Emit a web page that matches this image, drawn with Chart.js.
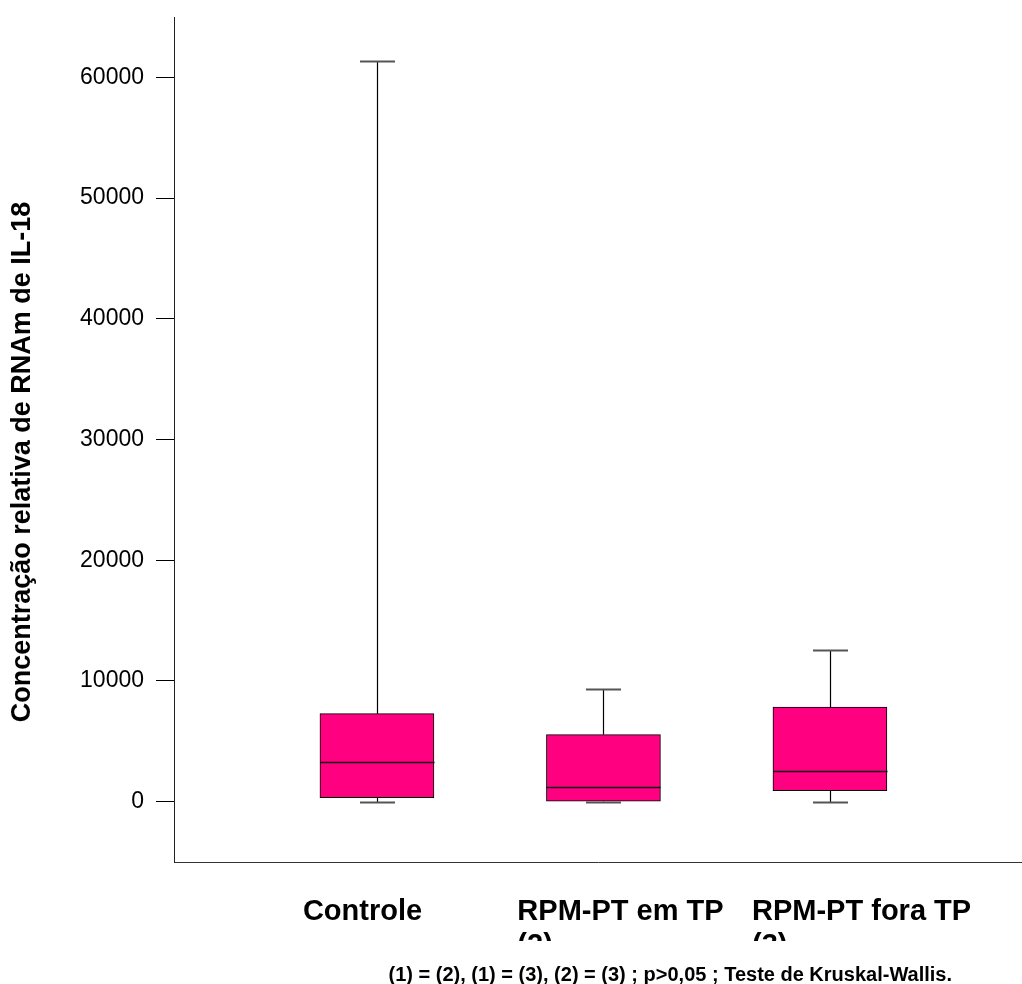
<!DOCTYPE html>
<html>
<head>
<meta charset="utf-8">
<script src="https://cdn.jsdelivr.net/npm/chart.js@4.4.1/dist/chart.umd.min.js"></script>
<style>
    html, body { margin: 0; padding: 0; background: #fff; }
    #wrap { width: 1022px; height: 984px; }
</style>
</head>
<body>
<div id="wrap"><canvas id="grafico"></canvas></div>
<script>
// dados do boxplot
var grupos = [['Controle'], ['RPM-PT em TP', '(2)'], ['RPM-PT fora TP', '(3)']];
var posicoes = [1, 2, 3];
var minimos = [0, 0, 0];
var quartil1 = [330, 0, 910];
var medianas = [3250, 1180, 2510];
var quartil3 = [7290, 5550, 7840];
var maximos = [61350, 9350, 12600];
var yTicks = [0, 10000, 20000, 30000, 40000, 50000, 60000];
var tituloY = 'Concentração relativa de RNAm de IL-18';
var rodape = '(1) = (2), (1) = (3), (2) = (3) ; p>0,05 ; Teste de Kruskal-Wallis.';

var fonte = '"Liberation Sans", Arial, sans-serif';

var linha = function (ctx, x1, y1, x2, y2) {
    ctx.beginPath();
    ctx.moveTo(x1, y1);
    ctx.lineTo(x2, y2);
    ctx.stroke();
};

// bigodes e mediana por cima das caixas
var bigodes = {
    id: 'bigodes',
    afterDatasetsDraw: function (chart) {
        var ctx = chart.ctx;
        var sy = chart.scales.y;
        var meta = chart.getDatasetMeta(0);
        ctx.save();
        posicoes.forEach(function (p, i) {
            var barra = meta.data[i];
            var cx = Math.round(barra.x) + 0.5;
            var meia = barra.width / 2;
            var yMax = Math.round(sy.getPixelForValue(maximos[i])) + 0.5;
            var yMin = Math.round(sy.getPixelForValue(minimos[i])) + 0.5;
            var yQ1 = sy.getPixelForValue(quartil1[i]);
            var yQ3 = sy.getPixelForValue(quartil3[i]);
            var yMed = Math.round(sy.getPixelForValue(medianas[i])) + 0.5;

            ctx.strokeStyle = '#000';
            ctx.lineWidth = 1.2;
            linha(ctx, cx, yQ3, cx, yMax);
            linha(ctx, cx, yQ1, cx, yMin);

            ctx.strokeStyle = '#555';
            ctx.lineWidth = 2;
            linha(ctx, cx - 17.5, yMax, cx + 17.5, yMax);
            linha(ctx, cx - 17.5, yMin, cx + 17.5, yMin);

            ctx.strokeStyle = '#111';
            ctx.lineWidth = 1.5;
            linha(ctx, cx - meia, yMed, cx + meia, yMed);
        });
        ctx.restore();
    }
};

// textos: titulo do eixo, rotulos das categorias e rodape
var textos = {
    id: 'textos',
    afterDraw: function (chart) {
        var ctx = chart.ctx;
        var sx = chart.scales.x;
        var desloc = [-0.327, -0.38, -0.344];
        ctx.save();
        ctx.fillStyle = '#000';

        ctx.save();
        ctx.translate(23, 462);
        ctx.rotate(-Math.PI / 2);
        ctx.font = 'bold 27px ' + fonte;
        ctx.textAlign = 'center';
        ctx.textBaseline = 'middle';
        ctx.fillText(tituloY, 0, 0);
        ctx.restore();

        ctx.save();
        ctx.beginPath();
        ctx.rect(0, chart.chartArea.bottom, chart.width, 941 - chart.chartArea.bottom);
        ctx.clip();
        ctx.font = 'bold 29px ' + fonte;
        ctx.textAlign = 'left';
        ctx.textBaseline = 'alphabetic';
        grupos.forEach(function (linhas, i) {
            var x0 = sx.getPixelForValue(posicoes[i] + desloc[i]);
            linhas.forEach(function (t, k) {
                ctx.fillText(t, x0, 920 + k * 34);
            });
        });
        ctx.restore();

        ctx.font = 'bold 20px ' + fonte;
        ctx.textAlign = 'right';
        ctx.textBaseline = 'alphabetic';
        ctx.fillText(rodape, 952, 981);
        ctx.restore();
    }
};

var dadosCaixas = posicoes.map(function (p, i) {
    return { x: p, y: [quartil1[i], quartil3[i]] };
});

new Chart(document.getElementById('grafico'), {
    type: 'bar',
    data: {
        datasets: [{
            data: dadosCaixas,
            backgroundColor: '#FF0080',
            borderColor: '#000',
            borderWidth: 1,
            borderSkipped: false,
            barThickness: 114
        }]
    },
    options: {
        responsive: true,
        maintainAspectRatio: false,
        animation: false,
        layout: { padding: { top: 17, right: 0, left: 0, bottom: 0 } },
        plugins: {
            legend: { display: false },
            tooltip: { enabled: false }
        },
        scales: {
            x: {
                type: 'linear',
                offset: false,
                min: 0.104,
                max: 3.848,
                ticks: { display: false },
                grid: { display: false },
                border: { display: true, color: '#333', width: 1 },
                afterFit: function (s) {
                    s.height = 122;
                    s.paddingLeft = 0;
                    s.paddingRight = 0;
                }
            },
            y: {
                min: -5000,
                max: 65000,
                afterBuildTicks: function (s) {
                    s.ticks = yTicks.map(function (v) { return { value: v }; });
                },
                afterFit: function (s) {
                    s.width = 174;
                    s.paddingTop = 0;
                    s.paddingBottom = 0;
                },
                ticks: {
                    color: '#000',
                    padding: 12,
                    font: { family: fonte, size: 23 },
                    callback: function (v) { return String(v); }
                },
                grid: {
                    drawOnChartArea: false,
                    drawTicks: true,
                    tickLength: 18,
                    color: '#000'
                },
                border: { display: true, color: '#222', width: 1 }
            }
        }
    },
    plugins: [bigodes, textos]
});
</script>
</body>
</html>
